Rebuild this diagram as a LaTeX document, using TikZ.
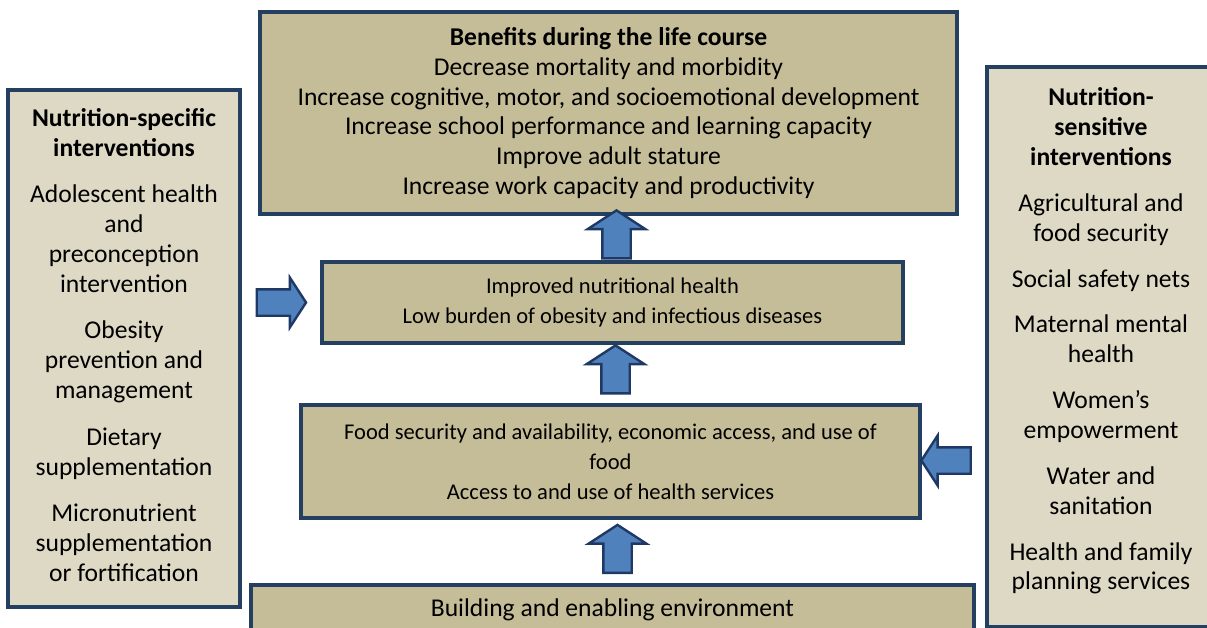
\documentclass[tikz,border=0pt]{standalone}
\usepackage{fontspec}
\setmainfont{Carlito}
\usetikzlibrary{shapes.arrows,calc}

\definecolor{boxline}{HTML}{243F60}
\definecolor{tanfill}{HTML}{C4BD97}
\definecolor{lighttan}{HTML}{DDD9C4}
\definecolor{arrowfill}{HTML}{4F81BD}
\definecolor{arrowline}{HTML}{1F3864}
\newcommand{\bigtext}{\fontsize{19.2}{22.4}\selectfont}
\newcommand{\smalltext}{\fontsize{16.9}{22.4}\selectfont}

\begin{document}
\begin{tikzpicture}[x=0.75pt, y=-0.75pt,
	box/.style={draw=boxline, line width=3pt, fill=tanfill, inner sep=0pt, align=center, font=\bigtext},
	sidebox/.style={box, fill=lighttan},
	sidetext/.style={inner sep=0pt, align=center, font=\bigtext},
	blockarrow/.style={single arrow, draw=arrowline, fill=arrowfill, line width=1.8pt, inner sep=0pt,
		single arrow tip angle=114, single arrow head extend=11pt, minimum height=36pt},
	uparrow/.style={blockarrow, rotate=90, node contents={\rule{0pt}{19.5pt}}},
	sidearrow/.style={blockarrow, single arrow head extend=8.8pt, minimum height=37pt, node contents={\rule{0pt}{18pt}}}]
		\clip (0,0) rectangle (1207,628);
		\useasboundingbox (0,0) rectangle (1207,628);
		% central column
		\node[box, minimum width=522.75pt, minimum height=151.5pt] (benefits) at (608.5,113)
			{\textbf{Benefits during the life course}\\
			Decrease mortality and morbidity\\
			Increase cognitive, motor, and socioemotional development\\
			Increase school performance and learning capacity\\
			Improve adult stature\\
			Increase work capacity and productivity};
		\node[box, font=\smalltext, minimum width=435.75pt, minimum height=60.75pt] (health) at (612.5,302.5)
			{Improved nutritional health\\
			Low burden of obesity and infectious diseases};
		\node[box, font=\smalltext, minimum width=464.25pt, minimum height=84.75pt] (food) at (610.5,461.5)
			{Food security and availability, economic access, and use of\\
			food\\
			Access to and use of health services};
		\node[box, minimum width=542.25pt, minimum height=37.5pt] (environment) at (612.5,610)
			{Building and enabling environment};
		% side columns
		\node[sidebox, minimum width=174pt, minimum height=387.75pt] (specific) at (124,348.5) {};
		\node[sidetext] (specificlist) at ($(specific.center)+(0,-3.5)$)
			{\textbf{Nutrition-specific}\\
			\textbf{interventions}\\[12.5pt]
			Adolescent health\\ and\\ preconception\\ intervention\\[12.5pt]
			Obesity\\ prevention and\\ management\\[12.5pt]
			Dietary\\ supplementation\\[12.5pt]
			Micronutrient\\ supplementation\\ or fortification};
		\node[sidebox, minimum width=171pt, minimum height=420pt] (sensitive) at (1101,347) {};
		\node[sidetext] (sensitivelist) at ($(sensitive.center)+(0,-6)$)
			{\textbf{Nutrition-}\\
			\textbf{sensitive}\\
			\textbf{interventions}\\[12pt]
			Agricultural and\\ food security\\[12pt]
			Social safety nets\\[12pt]
			Maternal mental\\ health\\[12pt]
			Women's\\ empowerment\\[12pt]
			Water and\\ sanitation\\[12pt]
			Health and family\\ planning services};
		% block arrows
		\node (up1) at ($(benefits.south)!0.5!(health.north)+(6,1)$) [uparrow];
		\node (up2) at ($(health.south)!0.5!(food.north)+(4,0)$) [uparrow];
		\node (up3) at ($(food.south)!0.5!(environment.north)+(6,2)$) [uparrow];
		\node (right) at ($(specific.east |- health.west)!0.45!(health.west)$) [sidearrow];
		\node (left) at ($(food.east)!0.45!(sensitive.west |- food.east)+(0,-1)$) [sidearrow, rotate=180];
	\end{tikzpicture}
\end{document}
